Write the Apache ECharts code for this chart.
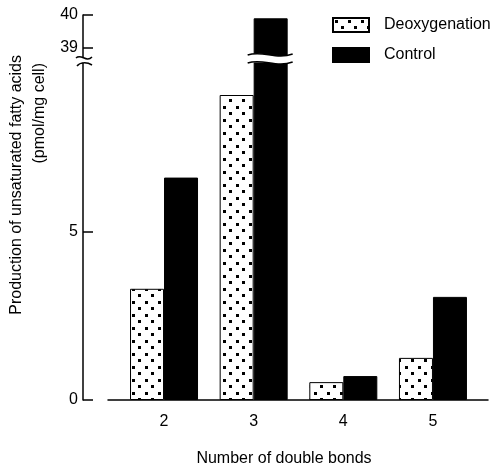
<!DOCTYPE html>
<html>
<head>
<meta charset="utf-8">
<script src="https://cdn.jsdelivr.net/npm/echarts@6/dist/echarts.min.js"></script>
<style>
  html, body { margin: 0; padding: 0; background: #fff; }
  #chart { width: 500px; height: 470px; }
</style>
</head>
<body>
<div id="chart"></div>
<script>
const categories = [2, 3, 4, 5];
const deoxygenation = [3.3, 9.05, 0.53, 1.25];
const control = [6.6, 39.9, 0.71, 3.06];
const lowTicks = [0, 5];
const highTicks = [39, 40];
const seriesNames = ["Deoxygenation", "Control"];

const FONT = "Liberation Sans, Arial, sans-serif";
const chart = echarts.init(document.getElementById("chart"));

// dotted fill for the deoxygenation bars
function dotPattern() {
  const c = document.createElement("canvas");
  c.width = 13;
  c.height = 13;
  const ctx = c.getContext("2d");
  ctx.fillStyle = "#fff";
  ctx.fillRect(0, 0, 13, 13);
  ctx.fillStyle = "#000";
  ctx.fillRect(2, 2, 3, 3);
  ctx.fillRect(8, 8, 3, 3);
  return c;
}
const dots = { image: dotPattern(), repeat: "repeat" };

const xBase = {
  type: "value",
  min: 1.375,
  max: 5.614,
  splitLine: { show: false },
  axisTick: { show: false },
};

const yBase = {
  type: "value",
  offset: 25,
  splitLine: { show: false },
  axisLine: { show: true, lineStyle: { color: "#000", width: 1.5 } },
  axisTick: { show: true, inside: true, length: 10, lineStyle: { color: "#000", width: 1.5 } },
  axisLabel: { color: "#000", fontSize: 16, fontFamily: FONT, margin: 5 },
};

function pairs(vals, keep) {
  return categories.map((c, i) => [c, keep(vals[i]) ? vals[i] : null]);
}

function barSeries(gridIdx, keep) {
  return [
    {
      name: seriesNames[0],
      type: "bar",
      xAxisIndex: gridIdx,
      yAxisIndex: gridIdx,
      barWidth: 34,
      barGap: "0%",
      data: pairs(deoxygenation, keep),
      itemStyle: { color: dots, borderColor: "#000", borderWidth: 1 },
    },
    {
      name: seriesNames[1],
      type: "bar",
      xAxisIndex: gridIdx,
      yAxisIndex: gridIdx,
      barWidth: 34,
      barGap: "0%",
      data: pairs(control, keep),
      itemStyle: { color: "#000", borderColor: "#000", borderWidth: 1 },
    },
  ];
}

chart.setOption({
  animation: false,
  backgroundColor: "#fff",
  textStyle: { fontFamily: FONT },
  legend: {
    data: seriesNames,
    orient: "vertical",
    left: 327,
    top: 12,
    itemWidth: 36,
    itemHeight: 14,
    itemGap: 14,
    icon: "rect",
    textStyle: { color: "#000", fontSize: 16, fontFamily: FONT, padding: [0, 0, 0, 10] },
  },
  grid: [
    { left: 108, right: 12, top: 15, height: 42 },
    { left: 108, right: 12, top: 63, bottom: 70 },
  ],
  xAxis: [
    Object.assign({}, xBase, { gridIndex: 0, show: false }),
    Object.assign({}, xBase, {
      gridIndex: 1,
      axisLine: { show: true, onZero: false, lineStyle: { color: "#000", width: 1.5 } },
      axisLabel: {
        color: "#000",
        fontSize: 16,
        fontFamily: FONT,
        margin: 14,
        customValues: categories,
      },
    }),
  ],
  yAxis: [
    Object.assign({}, yBase, {
      gridIndex: 0,
      min: 38.73,
      max: 40,
      axisTick: Object.assign({}, yBase.axisTick, { customValues: highTicks }),
      axisLabel: Object.assign({}, yBase.axisLabel, { customValues: highTicks }),
    }),
    Object.assign({}, yBase, {
      gridIndex: 1,
      min: 0,
      max: 10,
      axisTick: Object.assign({}, yBase.axisTick, { customValues: lowTicks }),
      axisLabel: Object.assign({}, yBase.axisLabel, { customValues: lowTicks }),
    }),
  ],
  series: barSeries(0, (v) => v > 10).concat(barSeries(1, () => true)),
});

// axis titles and the break marks, placed from the axes
const cx = chart.convertToPixel({ xAxisIndex: 1, yAxisIndex: 1 }, [3, 0])[0];
const ax = 83;

function waveShape(x0, x1, y) {
  return {
    x1: x0, y1: y,
    cpx1: x0 + (x1 - x0) * 0.33, cpy1: y - 5,
    cpx2: x1 - (x1 - x0) * 0.37, cpy2: y + 5,
    x2: x1, y2: y - 1,
  };
}
function sample(s, n) {
  const pts = [];
  for (let i = 0; i <= n; i++) {
    const t = i / n, u = 1 - t;
    pts.push([
      u * u * u * s.x1 + 3 * u * u * t * s.cpx1 + 3 * u * t * t * s.cpx2 + t * t * t * s.x2,
      u * u * u * s.y1 + 3 * u * u * t * s.cpy1 + 3 * u * t * t * s.cpy2 + t * t * t * s.y2,
    ]);
  }
  return pts;
}
const bx0 = cx - 6, bx1 = cx + 39;
const upper = waveShape(bx0, bx1, 55);
const lower = waveShape(bx0, bx1, 63);
const gapPoly = sample(upper, 20).concat(sample(lower, 20).reverse());

function stroke(shape) {
  return { type: "bezierCurve", z: 101, shape: shape, style: { fill: null, stroke: "#000", lineWidth: 1.5 } };
}

chart.setOption({
  graphic: [
    { type: "polygon", z: 100, shape: { points: gapPoly }, style: { fill: "#fff", stroke: null } },
    stroke(upper),
    stroke(lower),
    stroke(waveShape(ax - 7, ax + 9, 58)),
    stroke({ x1: ax - 6, y1: 66, cpx1: ax - 3, cpy1: 62, cpx2: ax + 4, cpy2: 62, x2: ax + 9, y2: 65 }),
    {
      type: "text",
      x: 17,
      y: 55,
      rotation: Math.PI / 2,
      style: {
        text: "Production of unsaturated fatty acids",
        fill: "#000",
        fontSize: 16,
        fontFamily: FONT,
        align: "right",
        verticalAlign: "middle",
      },
    },
    {
      type: "text",
      x: 40,
      y: 63,
      rotation: Math.PI / 2,
      style: {
        text: "(pmol/mg cell)",
        fill: "#000",
        fontSize: 16,
        fontFamily: FONT,
        align: "right",
        verticalAlign: "middle",
      },
    },
    {
      type: "text",
      x: 284,
      y: 459,
      style: {
        text: "Number of double bonds",
        fill: "#000",
        fontSize: 16,
        fontFamily: FONT,
        align: "center",
        verticalAlign: "middle",
      },
    },
  ],
});
</script>
</body>
</html>
